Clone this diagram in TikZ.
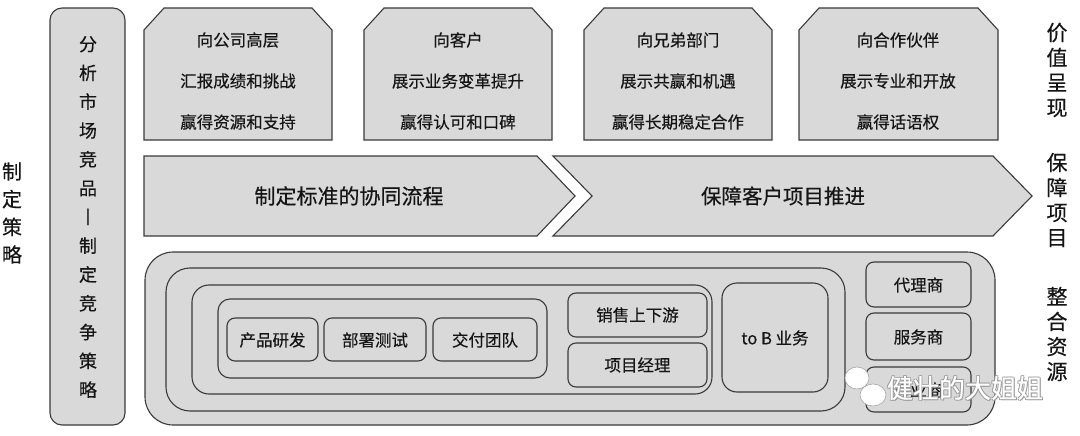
\documentclass[tikz,border=0pt]{standalone}
\usepackage{fontspec}
\setmainfont[FakeBold=0.35]{Noto Sans CJK SC}
\definecolor{boxfill}{HTML}{D9D9D9}
\definecolor{boxline}{HTML}{3A3A3A}
\definecolor{txt}{HTML}{151515}
\begin{document}
\begin{tikzpicture}[x=1pt,y=-1pt,
  panel/.style={draw=boxline,fill=boxfill,line width=1.1pt},
  lbl/.style={text=txt,inner sep=0pt,font=\fontsize{16.5}{20}\selectfont},
  big/.style={text=txt,inner sep=0pt,font=\fontsize{20.5}{24}\selectfont},
  vtxt/.style={text=txt,inner sep=0pt,align=center},
  wm/.style={inner sep=0pt,font=\fontsize{26}{28}\selectfont}
]
\useasboundingbox (0,0) rectangle (1080,436);

% left side label
\node[vtxt,font=\fontsize{20}{27.7}\selectfont] (strat) at (12,213) {制\\定\\策\\略};

% tall left box
\draw[panel,rounded corners=12pt] (50,8) rectangle (125,425);
\node[vtxt,font=\fontsize{18}{28.8}\selectfont] (analyse) at (88,217)
  {分\\析\\市\\场\\竞\\品\\丨\\制\\定\\竞\\争\\策\\略};

% top chamfered boxes
\foreach \xa/\xb in {144/332,364/552,584/772,799/998}{
  \draw[panel] (\xa,140) -- (\xa,30) -- (\xa+20,8) -- (\xb-20,8) -- (\xb,30) -- (\xb,140) -- cycle;
}
\node[lbl] (a1) at (238,40) {向公司高层};
\node[lbl] (a2) at (238,81) {汇报成绩和挑战};
\node[lbl] (a3) at (238,122) {赢得资源和支持};
\node[lbl] (b1) at (458,40) {向客户};
\node[lbl] (b2) at (458,81) {展示业务变革提升};
\node[lbl] (b3) at (458,122) {赢得认可和口碑};
\node[lbl] (c1) at (678,40) {向兄弟部门};
\node[lbl] (c2) at (678,81) {展示共赢和机遇};
\node[lbl] (c3) at (678,122) {赢得长期稳定合作};
\node[lbl] (d1) at (898,40) {向合作伙伴};
\node[lbl] (d2) at (898,81) {展示专业和开放};
\node[lbl] (d3) at (898,122) {赢得话语权};

% right labels
\node[vtxt,font=\fontsize{21}{25}\selectfont] (value) at (1057,70) {价\\值\\呈\\现};
\node[vtxt,font=\fontsize{21}{25}\selectfont] (guard) at (1057,200) {保\\障\\项\\目};
\node[vtxt,font=\fontsize{21}{25}\selectfont] (merge) at (1057,334) {整\\合\\资\\源};

% chevrons
\draw[panel] (144,156) -- (537,156) -- (575,196) -- (537,236) -- (144,236) -- cycle;
\draw[panel] (553,156) -- (993,156) -- (1032,196) -- (993,236) -- (553,236) -- (592,196) -- cycle;
\node[big,font=\fontsize{21}{24}\selectfont] (flow) at (349,196) {制定标准的协同流程};
\node[big] (push) at (783,196) {保障客户项目推进};

% bottom nested panels
\draw[panel,rounded corners=28pt] (145,252) rectangle (995,425);
\draw[panel,rounded corners=24pt] (166,268) rectangle (845,411);
\draw[panel,rounded corners=17pt] (192,285) rectangle (712,394);
\draw[panel,rounded corners=12pt] (218,299) rectangle (547,378);
\draw[panel,rounded corners=8pt] (227,318) rectangle (318,361);
\draw[panel,rounded corners=8pt] (324,318) rectangle (426,361);
\draw[panel,rounded corners=8pt] (433,318) rectangle (537,361);
\draw[panel,rounded corners=8pt] (568,293) rectangle (707,337);
\draw[panel,rounded corners=8pt] (568,343) rectangle (707,387);
\draw[panel,rounded corners=15pt] (722,283) rectangle (828,392);
\draw[panel,rounded corners=8pt] (866,262) rectangle (971,307);
\draw[panel,rounded corners=8pt] (866,313) rectangle (971,360);
\draw[panel,rounded corners=8pt] (866,367) rectangle (971,412);

\node[lbl] (p1) at (272.5,340) {产品研发};
\node[lbl] (p2) at (375,340) {部署测试};
\node[lbl] (p3) at (485,340) {交付团队};
\node[lbl] (s1) at (637.5,315) {销售上下游};
\node[lbl] (s2) at (637.5,365) {项目经理};
\node[lbl] (tob) at (775,338) {to B 业务};
\node[lbl] (r1) at (918.5,285) {代理商};
\node[lbl] (r2) at (918.5,337) {服务商};
\node[lbl] (r3) at (918.5,390) {行业商};

% watermark
\fill[white,draw=gray!70,line width=0.6pt] (857,378) ellipse (12pt and 11pt);
\fill[white,draw=gray!70,line width=0.6pt] (873,395) ellipse (13pt and 11pt);
\foreach \dx/\dy in {0.9/0.9,-0.7/0.7,0.7/-0.7,-0.7/-0.7}{
  \node[wm,text=gray!80] at (965+\dx,388+\dy) {健壮的大姐姐};
}
\node[wm,text=white] (mark) at (965,388) {健壮的大姐姐};
\end{tikzpicture}
\end{document}
